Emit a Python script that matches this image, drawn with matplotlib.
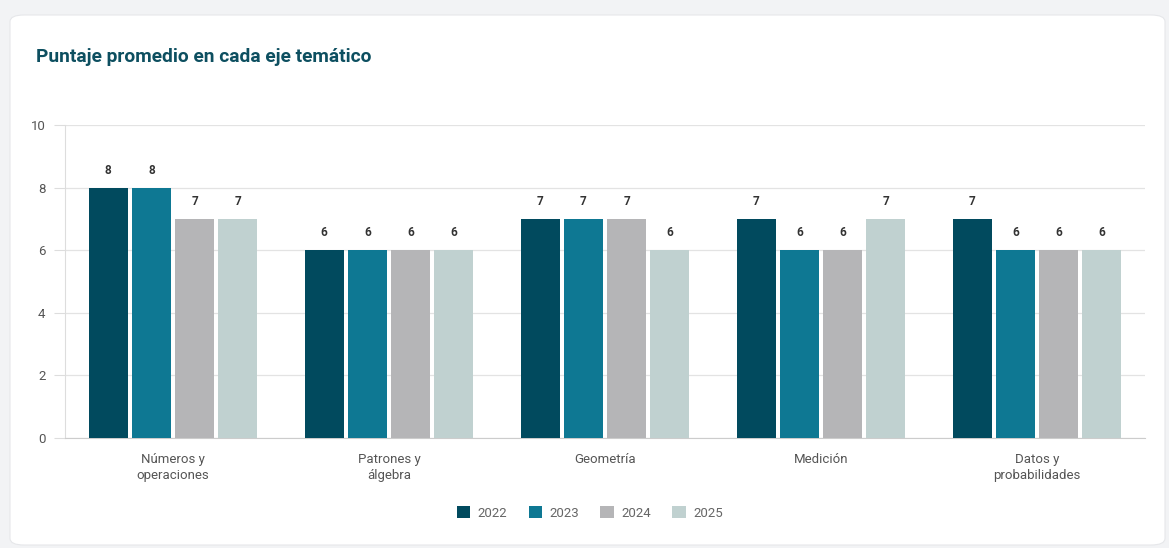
import numpy as np
import matplotlib.pyplot as plt
from matplotlib.patches import FancyBboxPatch

categories = ["Números y\noperaciones", "Patrones y\nálgebra", "Geometría", "Medición", "Datos y\nprobabilidades"]
years = ["2022", "2023", "2024", "2025"]
scores = {
    "2022": [8, 6, 7, 7, 7],
    "2023": [8, 6, 7, 6, 6],
    "2024": [7, 6, 7, 6, 6],
    "2025": [7, 6, 6, 7, 6],
}
colors = ["#014a5e", "#0e7893", "#b5b5b7", "#c0d1d0"]

plt.rcParams['font.family'] = ['Roboto', 'DejaVu Sans']

fig = plt.figure(figsize=(11.69, 5.48), dpi=100)
fig.patch.set_facecolor("#f2f3f5")

# white card behind everything
card = FancyBboxPatch((10 / 1169, 3 / 548), 1155 / 1169, 530 / 548,
                      boxstyle="round,pad=0,rounding_size=0.012",
                      transform=fig.transFigure, facecolor="white",
                      edgecolor="#e6e7ea", linewidth=0.8, zorder=-5)
fig.patches.append(card)

fig.text(36 / 1169, 1 - 57 / 548, "Puntaje promedio en cada eje temático",
         fontsize=13.8, fontweight="bold", color="#0d4f60", va="center", ha="left")

ax = fig.add_axes([65 / 1169, 1 - 438 / 548, 1080 / 1169, 313 / 548])
ax.set_facecolor("white")

x = np.arange(len(categories))
pitch = 0.2
width = 0.18
for i, yr in enumerate(years):
    pos = x + (i - 1.5) * pitch
    bars = ax.bar(pos, scores[yr], width=width, color=colors[i], label=yr, zorder=3)
    for b, v in zip(bars, scores[yr]):
        ax.text(b.get_x() + b.get_width() / 2, v + 0.35, str(v), ha="center", va="bottom",
                fontsize=8.5, fontweight="bold", color="#333333")

ax.set_xlim(-0.5, len(categories) - 0.5)
ax.set_ylim(0, 10)
ax.set_yticks([0, 2, 4, 6, 8, 10])
ax.yaxis.grid(True, color="#e3e3e3", linewidth=0.9, zorder=0)
ax.set_axisbelow(True)
for s in ["top", "right"]:
    ax.spines[s].set_visible(False)
ax.spines["left"].set_color("#dddddd")
ax.spines["bottom"].set_color("#cccccc")
ax.tick_params(axis="y", length=8, color="#dddddd", labelcolor="#555555", labelsize=9.5, pad=6)
ax.tick_params(axis="x", length=0, labelcolor="#555555", labelsize=9.5, pad=11)
ax.set_xticks(x)
ax.set_xticklabels(categories, linespacing=1.3)

leg = fig.legend(loc="center", bbox_to_anchor=(590 / 1169, 1 - 513 / 548), ncol=4,
                 frameon=False, fontsize=9.5, handlelength=1.0, handleheight=1.0,
                 columnspacing=1.6, handletextpad=0.6)
for t in leg.get_texts():
    t.set_color("#666666")

fig.savefig("out.png", dpi=100, facecolor=fig.get_facecolor())
